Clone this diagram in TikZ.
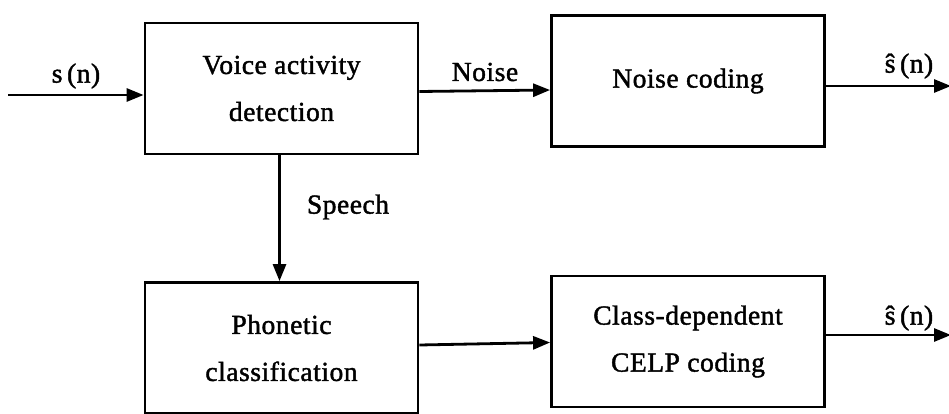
\documentclass[tikz,border=0pt]{standalone}
\usepackage{fontspec}
\setmainfont{Liberation Serif}[LetterSpace=2, FakeBold=1.5]
\usepackage{tikz}
\usetikzlibrary{arrows.meta}
\newcommand {\blk}[4] {\node[blockbox] (#1) at (#2,#3) {#4};}

\begin{document}
\begin{tikzpicture}[x=1pt, y=-1pt, line width=2.8pt,
        every node/.style={font=\fontsize{27.5}{47}\selectfont},
        blockbox/.style={draw, align=center, minimum width=273pt, minimum height=131pt, inner sep=0pt},
        sigtext/.style={inner sep=0pt},
        arr/.style={-{Triangle[length=17pt, width=13pt]}}]
        \useasboundingbox (0,0) rectangle (949,414);
        \blk{vad}{281.5}{88.5}{Voice activity\\detection}
        \blk{nc}{688}{81}{Noise coding}
        \blk{pc}{281.5}{348}{Phonetic\\classification}
        \blk{celp}{688}{341.5}{Class-dependent\\CELP coding}
        \coordinate (in) at (8,95);
        \coordinate (out1) at (951,86);
        \coordinate (out2) at (951,335);
        \draw[arr] (in) -- (in -| vad.west);
        \draw[arr] ([yshift=-3pt]vad.east) -- ([yshift=-9pt]nc.west);
        \draw[arr] (out1 -| nc.east) -- (out1);
        \draw[arr] ([xshift=-2pt]vad.south) -- ([xshift=-2pt]pc.north);
        \draw[arr] ([yshift=3pt]pc.east) -- ([yshift=-1pt]celp.west);
        \draw[arr] (out2 -| celp.east) -- (out2);
        \node[sigtext] (sin) at (76,76) {s\,(n)};
        \node[sigtext] (noise) at (485,72) {Noise};
        \node[sigtext] (speech) at (348,207) {Speech};
        \node[sigtext] (shat1) at (909,66) {\^s\,(n)};
        \node[sigtext] (shat2) at (909,318) {\^s\,(n)};
    \end{tikzpicture}
\end{document}
